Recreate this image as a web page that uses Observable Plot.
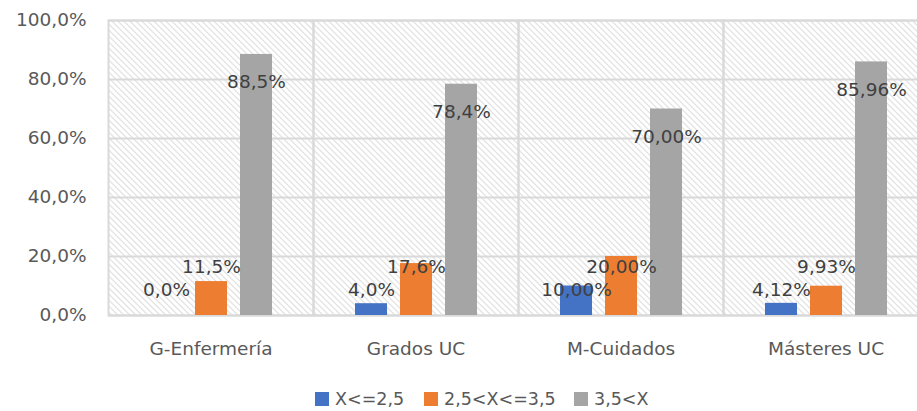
<!DOCTYPE html>
<html>
<head>
<meta charset="utf-8">
<script src="https://cdn.jsdelivr.net/npm/d3@7"></script>
<script src="https://cdn.jsdelivr.net/npm/@observablehq/plot@0.6"></script>
<style>
  html, body { margin: 0; padding: 0; background: #fff; overflow: hidden; }
  #wrap { width: 917px; height: 411px; overflow: hidden; position: relative; }
  #chart { width: 917px; height: 370px; overflow: hidden; }
  #chart svg { max-width: none !important; }
  #legend { height: 41px; position: relative; font-family: "DejaVu Sans", sans-serif; font-size: 17.5px; color: #595959; }
  .item { position: absolute; top: 20px; display: flex; align-items: center; height: 18px; }
  .sw { width: 14px; height: 14px; margin-right: 6px; }
</style>
</head>
<body>
<div id="wrap">
  <div id="chart"></div>
  <div id="legend"></div>
</div>
<script>
const categories = ["G-Enfermería", "Grados UC", "M-Cuidados", "Másteres UC"];
const series = ["X<=2,5", "2,5<X<=3,5", "3,5<X"];
const lowValues = [0.0, 4.0, 10.0, 4.12];
const midValues = [11.5, 17.6, 20.0, 9.93];
const highValues = [88.5, 78.4, 70.0, 85.96];
const labelDecimals = [1, 1, 2, 2];
const yTicks = [0, 20, 40, 60, 80, 100];
const colors = ["#4472C4", "#ED7D31", "#A5A5A5"];

const seriesValues = [lowValues, midValues, highValues];
const rows = [];
categories.forEach((cat, i) => {
  series.forEach((s, j) => {
    const v = seriesValues[j][i];
    rows.push({cat, series: s, si: j, value: v,
      label: v.toFixed(labelDecimals[i]).replace(".", ",") + "%"});
  });
});

function labelY(d) {
  if (d.si === 0) return 8.5;
  if (d.si === 1) return 16.4;
  return d.value - 9.5;
}

const fmt = v => v.toFixed(1).replace(".", ",") + "%";

const plot = Plot.plot({
  width: 928,
  height: 370,
  marginLeft: 108,
  marginRight: 0,
  marginTop: 20,
  marginBottom: 55,
  style: {fontFamily: "DejaVu Sans, sans-serif", fontSize: "18.5px", color: "#595959", background: "white", maxWidth: "none"},
  fx: {domain: categories, padding: 0, label: null, axis: null},
  x: {domain: series, paddingInner: 0.289, paddingOuter: 0.922, axis: null},
  y: {domain: [0, 100], axis: null},
  color: {domain: series, range: colors},
  marks: [
    Plot.frame({fill: "url(#hatch)"}),
    Plot.gridY(yTicks, {stroke: "#d9d9d9", strokeOpacity: 1, strokeWidth: 2}),
    Plot.frame({stroke: "#d9d9d9", strokeWidth: 2}),
    Plot.barY(rows, {fx: "cat", x: "series", y: "value", fill: "series"}),
    Plot.text(rows, {fx: "cat", x: "series", y: labelY, text: "label", fill: "#404040", fontSize: 18.5}),
    Plot.axisY(yTicks, {anchor: "left", tickSize: 0, tickPadding: 22, tickFormat: fmt, label: null, fill: "#595959", fontSize: 18.5}),
    Plot.axisFx({anchor: "bottom", tickSize: 0, tickPadding: 26, label: null, fill: "#595959", fontSize: 18.5})
  ]
});

const ns = "http://www.w3.org/2000/svg";
const defs = document.createElementNS(ns, "defs");
defs.innerHTML = '<pattern id="hatch" patternUnits="userSpaceOnUse" width="4.243" height="4.243" patternTransform="rotate(-45)">' +
  '<rect width="4.243" height="4.243" fill="#ffffff"/>' +
  '<line x1="0" y1="0" x2="0" y2="4.243" stroke="#dadada" stroke-width="2"/></pattern>';
plot.prepend(defs);
document.getElementById("chart").appendChild(plot);

const legend = document.getElementById("legend");
const legendX = [315, 424, 574];
series.forEach((s, j) => {
  const it = document.createElement("div");
  it.className = "item";
  it.style.left = legendX[j] + "px";
  const sw = document.createElement("div");
  sw.className = "sw";
  sw.style.background = colors[j];
  const tx = document.createElement("span");
  tx.textContent = s;
  it.appendChild(sw);
  it.appendChild(tx);
  legend.appendChild(it);
});
</script>
</body>
</html>
